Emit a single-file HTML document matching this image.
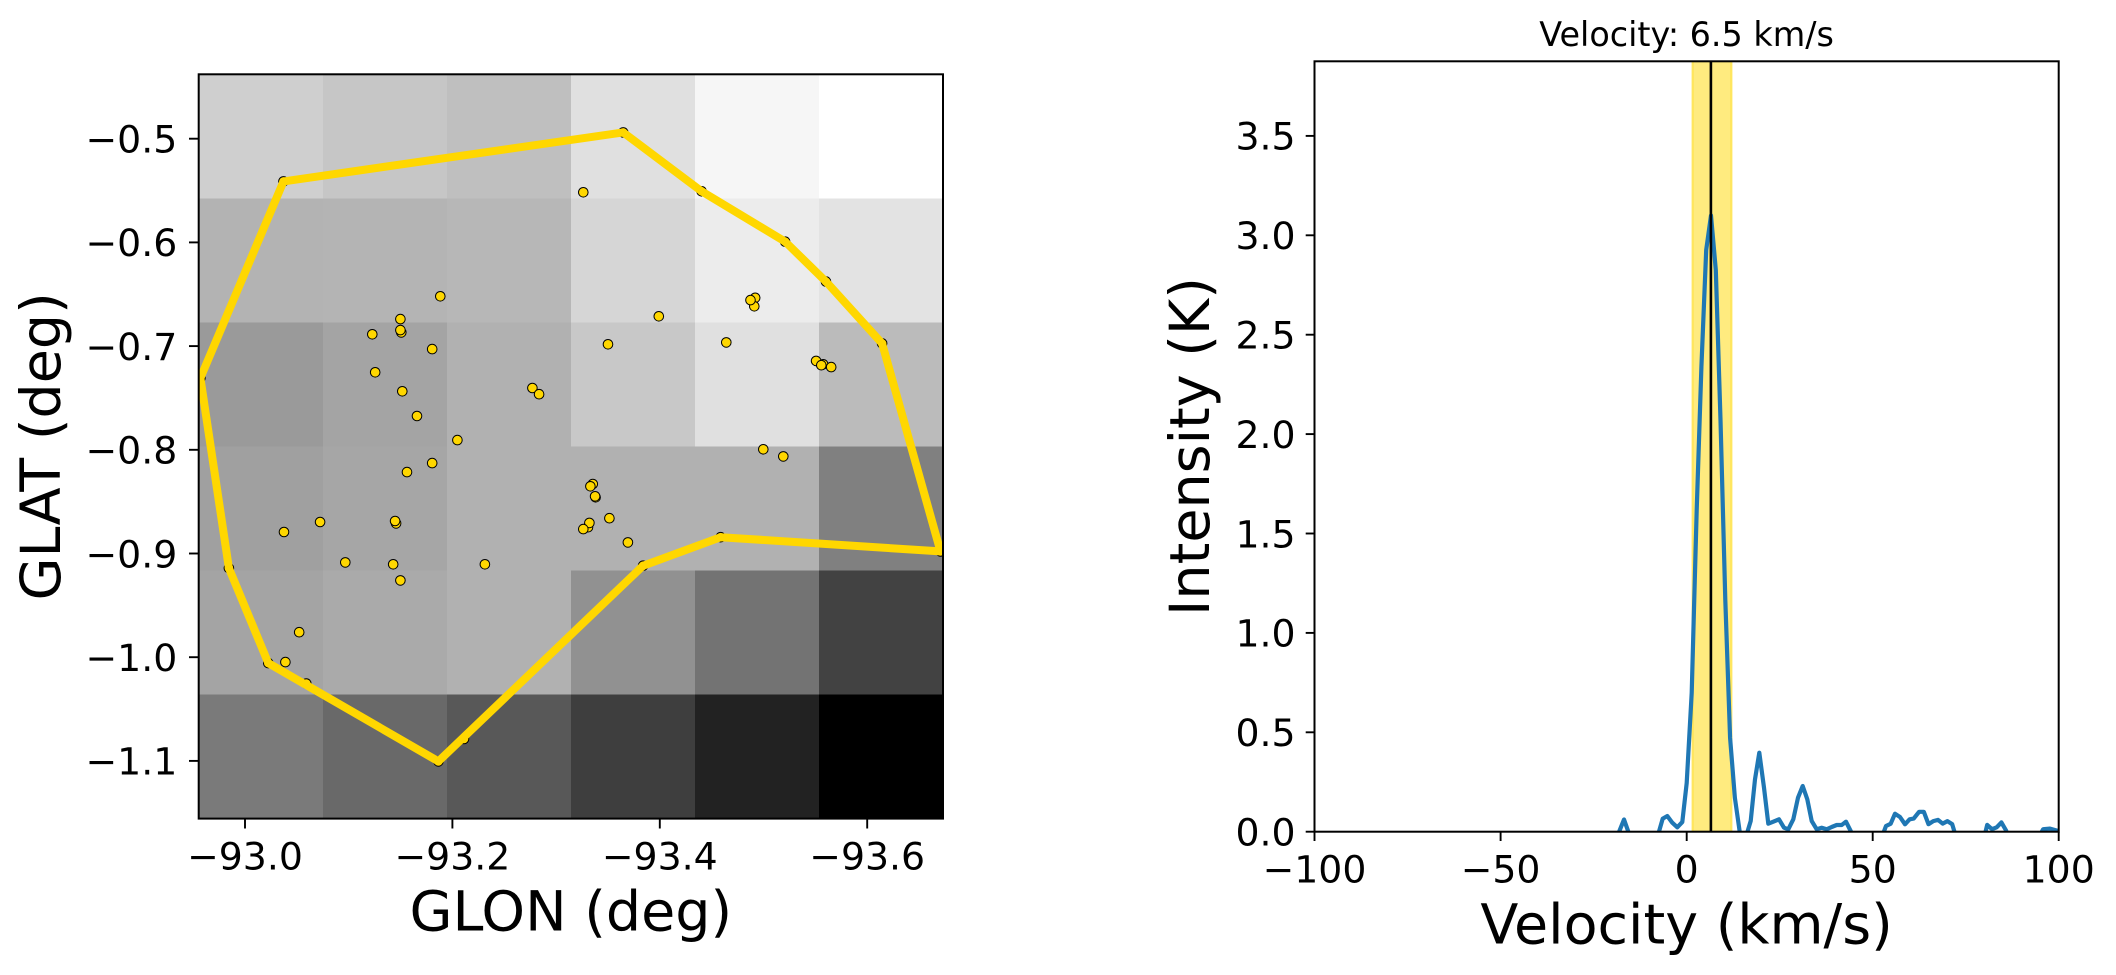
<!DOCTYPE html>
<html>
<head>
<meta charset="utf-8">
<style>
html,body{margin:0;padding:0;background:#fff;}
svg{display:block;}
text{font-family:"DejaVu Sans","Liberation Sans",sans-serif;fill:#000;}
.tk{font-size:37.8px;}
.lb{font-size:55.5px;}
</style>
</head>
<body>
<svg width="2116" height="975" viewBox="0 0 2116 975" xmlns="http://www.w3.org/2000/svg">
<defs>
<clipPath id="cl"><rect x="198.7" y="74.3" width="744.3" height="744.3"/></clipPath>
<clipPath id="cr"><rect x="1314.5" y="61.3" width="744.2" height="770.4"/></clipPath>
</defs>
<rect x="0" y="0" width="2116" height="975" fill="#fff"/>

<g shape-rendering="crispEdges">
<rect x="198.7" y="74.3" width="124.1" height="124.1" fill="#cfcfcf"/>
<rect x="322.75" y="74.3" width="124.1" height="124.1" fill="#c6c6c6"/>
<rect x="446.8" y="74.3" width="124.1" height="124.1" fill="#bfbfbf"/>
<rect x="570.85" y="74.3" width="124.1" height="124.1" fill="#e0e0e0"/>
<rect x="694.9" y="74.3" width="124.1" height="124.1" fill="#f6f6f6"/>
<rect x="818.95" y="74.3" width="124.1" height="124.1" fill="#ffffff"/>
<rect x="198.7" y="198.35" width="124.1" height="124.1" fill="#b3b3b3"/>
<rect x="322.75" y="198.35" width="124.1" height="124.1" fill="#b4b4b4"/>
<rect x="446.8" y="198.35" width="124.1" height="124.1" fill="#b7b7b7"/>
<rect x="570.85" y="198.35" width="124.1" height="124.1" fill="#d6d6d6"/>
<rect x="694.9" y="198.35" width="124.1" height="124.1" fill="#ececec"/>
<rect x="818.95" y="198.35" width="124.1" height="124.1" fill="#e3e3e3"/>
<rect x="198.7" y="322.4" width="124.1" height="124.1" fill="#9a9a9a"/>
<rect x="322.75" y="322.4" width="124.1" height="124.1" fill="#a4a4a4"/>
<rect x="446.8" y="322.4" width="124.1" height="124.1" fill="#b1b1b1"/>
<rect x="570.85" y="322.4" width="124.1" height="124.1" fill="#c8c8c8"/>
<rect x="694.9" y="322.4" width="124.1" height="124.1" fill="#e0e0e0"/>
<rect x="818.95" y="322.4" width="124.1" height="124.1" fill="#bbbbbb"/>
<rect x="198.7" y="446.45" width="124.1" height="124.1" fill="#a0a0a0"/>
<rect x="322.75" y="446.45" width="124.1" height="124.1" fill="#a6a6a6"/>
<rect x="446.8" y="446.45" width="124.1" height="124.1" fill="#b1b1b1"/>
<rect x="570.85" y="446.45" width="124.1" height="124.1" fill="#b1b1b1"/>
<rect x="694.9" y="446.45" width="124.1" height="124.1" fill="#b1b1b1"/>
<rect x="818.95" y="446.45" width="124.1" height="124.1" fill="#808080"/>
<rect x="198.7" y="570.5" width="124.1" height="124.1" fill="#a4a4a4"/>
<rect x="322.75" y="570.5" width="124.1" height="124.1" fill="#aaaaaa"/>
<rect x="446.8" y="570.5" width="124.1" height="124.1" fill="#b1b1b1"/>
<rect x="570.85" y="570.5" width="124.1" height="124.1" fill="#919191"/>
<rect x="694.9" y="570.5" width="124.1" height="124.1" fill="#737373"/>
<rect x="818.95" y="570.5" width="124.1" height="124.1" fill="#424242"/>
<rect x="198.7" y="694.55" width="124.1" height="124.1" fill="#7a7a7a"/>
<rect x="322.75" y="694.55" width="124.1" height="124.1" fill="#696969"/>
<rect x="446.8" y="694.55" width="124.1" height="124.1" fill="#585858"/>
<rect x="570.85" y="694.55" width="124.1" height="124.1" fill="#3e3e3e"/>
<rect x="694.9" y="694.55" width="124.1" height="124.1" fill="#222222"/>
<rect x="818.95" y="694.55" width="124.1" height="124.1" fill="#000000"/>
</g>

<g clip-path="url(#cl)" fill="#ffd700" stroke="#000" stroke-width="1">
<circle cx="283.5" cy="181.4" r="4.8"/>
<circle cx="623.2" cy="132.4" r="4.8"/>
<circle cx="701.6" cy="191.3" r="4.8"/>
<circle cx="785.2" cy="241.7" r="4.8"/>
<circle cx="826.0" cy="281.6" r="4.8"/>
<circle cx="882.1" cy="343.4" r="4.8"/>
<circle cx="940.5" cy="551.4" r="4.8"/>
<circle cx="720.6" cy="537.2" r="4.8"/>
<circle cx="643.1" cy="565.7" r="4.8"/>
<circle cx="438.4" cy="761.4" r="4.8"/>
<circle cx="268.3" cy="663.1" r="4.8"/>
<circle cx="228.9" cy="568.1" r="4.8"/>
<circle cx="200.4" cy="378.0" r="4.8"/>
<circle cx="306.3" cy="683.5" r="4.8"/>
<circle cx="464.0" cy="739.0" r="4.8"/>
<circle cx="583.3" cy="192.3" r="4.8"/>
<circle cx="440.3" cy="296.3" r="4.8"/>
<circle cx="401.3" cy="332.4" r="4.8"/>
<circle cx="400.4" cy="330.1" r="4.8"/>
<circle cx="400.4" cy="319.1" r="4.8"/>
<circle cx="372.3" cy="334.3" r="4.8"/>
<circle cx="432.2" cy="349.1" r="4.8"/>
<circle cx="375.2" cy="372.3" r="4.8"/>
<circle cx="402.3" cy="391.3" r="4.8"/>
<circle cx="417.0" cy="416.0" r="4.8"/>
<circle cx="457.4" cy="440.1" r="4.8"/>
<circle cx="432.2" cy="463.1" r="4.8"/>
<circle cx="407.0" cy="472.1" r="4.8"/>
<circle cx="532.4" cy="388.0" r="4.8"/>
<circle cx="539.1" cy="394.2" r="4.8"/>
<circle cx="608.0" cy="344.3" r="4.8"/>
<circle cx="658.8" cy="316.3" r="4.8"/>
<circle cx="726.3" cy="342.4" r="4.8"/>
<circle cx="755.2" cy="297.8" r="4.8"/>
<circle cx="754.3" cy="306.3" r="4.8"/>
<circle cx="750.5" cy="300.1" r="4.8"/>
<circle cx="823.2" cy="364.3" r="4.8"/>
<circle cx="816.1" cy="360.9" r="4.8"/>
<circle cx="821.3" cy="365.2" r="4.8"/>
<circle cx="831.2" cy="367.1" r="4.8"/>
<circle cx="763.3" cy="449.3" r="4.8"/>
<circle cx="783.3" cy="456.4" r="4.8"/>
<circle cx="592.8" cy="484.0" r="4.8"/>
<circle cx="590.4" cy="486.3" r="4.8"/>
<circle cx="595.6" cy="497.3" r="4.8"/>
<circle cx="595.1" cy="496.3" r="4.8"/>
<circle cx="609.4" cy="518.2" r="4.8"/>
<circle cx="588.0" cy="527.2" r="4.8"/>
<circle cx="589.4" cy="522.9" r="4.8"/>
<circle cx="583.3" cy="529.1" r="4.8"/>
<circle cx="627.9" cy="542.4" r="4.8"/>
<circle cx="284.0" cy="532.0" r="4.8"/>
<circle cx="320.1" cy="522.0" r="4.8"/>
<circle cx="396.1" cy="523.4" r="4.8"/>
<circle cx="395.1" cy="521.0" r="4.8"/>
<circle cx="345.3" cy="562.4" r="4.8"/>
<circle cx="393.2" cy="564.3" r="4.8"/>
<circle cx="484.9" cy="564.3" r="4.8"/>
<circle cx="400.4" cy="580.4" r="4.8"/>
<circle cx="299.2" cy="632.2" r="4.8"/>
<circle cx="285.4" cy="662.1" r="4.8"/>
</g>

<path clip-path="url(#cl)" d="M283.5,181.4 L623.2,132.4 L701.6,191.3 L785.2,241.7 L826.0,281.6 L882.1,343.4 L940.5,551.4 L720.6,537.2 L643.1,565.7 L438.4,761.4 L268.3,663.1 L228.9,568.1 L200.4,378.0 Z" fill="none" stroke="#ffd700" stroke-width="8" stroke-linejoin="round"/>

<rect x="198.7" y="74.3" width="744.3" height="744.3" fill="none" stroke="#000" stroke-width="2"/>

<g stroke="#000" stroke-width="1.9">
<line x1="189" y1="138.7" x2="198.7" y2="138.7"/>
<line x1="189" y1="242.4" x2="198.7" y2="242.4"/>
<line x1="189" y1="346.1" x2="198.7" y2="346.1"/>
<line x1="189" y1="449.8" x2="198.7" y2="449.8"/>
<line x1="189" y1="553.5" x2="198.7" y2="553.5"/>
<line x1="189" y1="657.2" x2="198.7" y2="657.2"/>
<line x1="189" y1="760.9" x2="198.7" y2="760.9"/>
<line x1="245" y1="818.6" x2="245" y2="828.5"/>
<line x1="452.4" y1="818.6" x2="452.4" y2="828.5"/>
<line x1="659.8" y1="818.6" x2="659.8" y2="828.5"/>
<line x1="867.2" y1="818.6" x2="867.2" y2="828.5"/>
</g>
<g class="tk" text-anchor="end">
<text x="177.3" y="152.5">−0.5</text>
<text x="177.3" y="256.2">−0.6</text>
<text x="177.3" y="359.9">−0.7</text>
<text x="177.3" y="463.6">−0.8</text>
<text x="177.3" y="567.3">−0.9</text>
<text x="177.3" y="671.0">−1.0</text>
<text x="177.3" y="774.7">−1.1</text>
</g>
<g class="tk" text-anchor="middle">
<text x="245" y="869.6">−93.0</text>
<text x="452.4" y="869.6">−93.2</text>
<text x="659.8" y="869.6">−93.4</text>
<text x="867.2" y="869.6">−93.6</text>
</g>
<text class="lb" x="570.8" y="930.5" text-anchor="middle">GLON (deg)</text>
<text class="lb" transform="translate(60,446.4) rotate(-90)" text-anchor="middle">GLAT (deg)</text>

<g clip-path="url(#cr)">
<rect x="1692.5" y="61.3" width="39" height="770.4" fill="#ffd700" fill-opacity="0.5"/>
<line x1="1692.5" y1="61.3" x2="1692.5" y2="831.7" stroke="#ffd700" stroke-opacity="0.5" stroke-width="2"/>
<line x1="1731.5" y1="61.3" x2="1731.5" y2="831.7" stroke="#ffd700" stroke-opacity="0.5" stroke-width="2"/>
<polyline fill="none" stroke="#1f77b4" stroke-width="4.2" stroke-linejoin="round" points="1314.5,842 1615,842 1624,819.5 1632,842 1656,842 1662.7,818.7 1667.3,816 1672.3,822.7 1677.3,827.3 1682.3,822 1686.7,783 1691.7,693 1696.7,510 1701.4,367 1706.2,250 1711,215.5 1715.8,270 1720.5,420 1725.3,600 1730.1,738 1734.9,798 1739.6,831 1742,840 1745,840 1750.7,821 1755,779.3 1759.3,752.7 1764,787.7 1768.3,823.7 1773.3,821.7 1779,819.3 1784,827.7 1788.3,829.3 1793.3,819.3 1798,797.7 1802.7,786 1807.3,799.3 1811.7,821 1816.7,829.3 1821.7,827.7 1826.7,829.3 1831.7,827 1836.7,825 1841.7,825 1846,821.7 1850.7,831 1854,842 1880,842 1886,826 1890.7,823.7 1895,813.7 1900,817 1905,824.3 1909.6,819.3 1913.7,818.6 1919.1,811.8 1923.8,811.8 1928.5,824.2 1933.3,821.1 1938,819.9 1942.7,823.6 1947.4,821.1 1952.2,824.2 1957.5,842 1983,842 1987.2,824.9 1992,829.2 1996.7,827.3 2001.4,822.4 2006.1,830.5 2010,842 2036,842 2043.2,829.2 2050,828.6 2056.7,830.5 2062,832"/>
<line x1="1710.9" y1="61.3" x2="1710.9" y2="831.7" stroke="#000" stroke-width="2.6"/>
</g>
<rect x="1314.5" y="61.3" width="744.2" height="770.4" fill="none" stroke="#000" stroke-width="2"/>

<g stroke="#000" stroke-width="1.9">
<line x1="1305.7" y1="831.7" x2="1314.5" y2="831.7"/>
<line x1="1305.7" y1="732.3" x2="1314.5" y2="732.3"/>
<line x1="1305.7" y1="632.9" x2="1314.5" y2="632.9"/>
<line x1="1305.7" y1="533.5" x2="1314.5" y2="533.5"/>
<line x1="1305.7" y1="434.1" x2="1314.5" y2="434.1"/>
<line x1="1305.7" y1="334.7" x2="1314.5" y2="334.7"/>
<line x1="1305.7" y1="235.3" x2="1314.5" y2="235.3"/>
<line x1="1305.7" y1="135.9" x2="1314.5" y2="135.9"/>
<line x1="1314.5" y1="831.7" x2="1314.5" y2="841"/>
<line x1="1500.6" y1="831.7" x2="1500.6" y2="841"/>
<line x1="1686.7" y1="831.7" x2="1686.7" y2="841"/>
<line x1="1872.7" y1="831.7" x2="1872.7" y2="841"/>
<line x1="2058.7" y1="831.7" x2="2058.7" y2="841"/>
</g>
<g class="tk" text-anchor="end">
<text x="1295.6" y="845.5">0.0</text>
<text x="1295.6" y="746.1">0.5</text>
<text x="1295.6" y="646.7">1.0</text>
<text x="1295.6" y="547.3">1.5</text>
<text x="1295.6" y="447.9">2.0</text>
<text x="1295.6" y="348.5">2.5</text>
<text x="1295.6" y="249.1">3.0</text>
<text x="1295.6" y="149.7">3.5</text>
</g>
<g class="tk" text-anchor="middle">
<text x="1314.5" y="882.6">−100</text>
<text x="1500.6" y="882.6">−50</text>
<text x="1686.7" y="882.6">0</text>
<text x="1872.7" y="882.6">50</text>
<text x="2058.7" y="882.6">100</text>
</g>
<text x="1686.6" y="46" text-anchor="middle" style="font-size:33.4px">Velocity: 6.5 km/s</text>
<text class="lb" x="1686.6" y="943.5" text-anchor="middle">Velocity (km/s)</text>
<text class="lb" transform="translate(1209,446.5) rotate(-90)" text-anchor="middle">Intensity (K)</text>
</svg>
</body>
</html>
